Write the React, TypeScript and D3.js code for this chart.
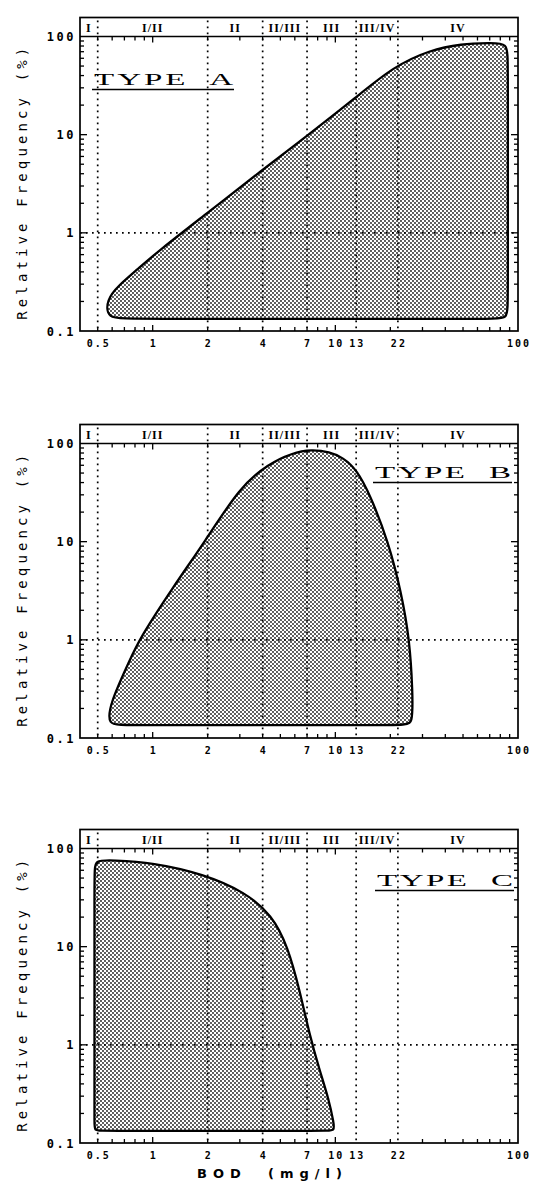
import React, { useEffect, useRef } from 'react';
import * as d3 from 'd3';

// zone boundaries on the BOD axis (mg/l) and the header labels between them
const zoneBounds = [0.4, 0.5, 2, 4, 7, 13, 22, 100];
const zoneLabels = ['I', 'I/II', 'II', 'II/III', 'III', 'III/IV', 'IV'];

const bodTicks = [0.5, 1, 2, 4, 7, 10, 13, 22, 100];
const bodTickLabels = ['0.5', '1', '2', '4', '7', '10', '13', '22', '100'];
const freqTicks = [0.1, 1, 10, 100];
const freqTickLabels = ['0.1', '1', '10', '100'];

const typeNames = ['TYPE  A', 'TYPE  B', 'TYPE  C'];

// outlines as [BOD, relative frequency %]
const typeA = [
    [0.56, 0.133], [0.56, 0.21], [0.65, 0.29], [0.82, 0.42], [1.06, 0.64],
    [2.0, 1.6], [4.0, 4.4], [7.0, 9.7], [13, 24], [20.7, 49], [33, 73],
    [49, 84], [70, 86], [88, 86], [88, 58], [88, 0.19], [88, 0.133],
    [72, 0.133], [0.75, 0.133]
];
const typeB = [
    [0.57, 0.135], [0.58, 0.22], [0.75, 0.62], [0.84, 1.0], [1.3, 3.5],
    [1.93, 10], [3.0, 36], [4.3, 62], [5.8, 80], [7.4, 87], [9.3, 82],
    [11, 72], [13.1, 54], [15.5, 30], [19.5, 10], [23, 3], [25.5, 1],
    [26.5, 0.3], [26.5, 0.135], [24, 0.135], [0.68, 0.135]
];
const typeC = [
    [0.48, 0.133], [0.48, 0.16], [0.48, 0.3], [0.48, 60], [0.48, 76],
    [0.6, 76], [1.0, 72], [1.9, 55], [3.2, 36], [4.5, 21], [5.5, 10],
    [6.4, 3.5], [7.2, 1.3], [8.2, 0.55], [9.2, 0.28], [9.8, 0.16], [9.9, 0.133],
    [9, 0.133], [0.52, 0.133]
];

const shapes = [typeA, typeB, typeC];

function App() {
    const ref = useRef(null);

    useEffect(() => {
        const width = 535, height = 1182;
        const left = 80, right = 518;
        const headTop = 17.5, plotTop = 36.5, plotBottom = 331;
        const offsets = [0, 407, 812];
        // where the TYPE label sits in each panel
        const nameBox = [
            { x1: 94, x2: 233, base: 48.5 },
            { x1: 375, x2: 511, base: 34.5 },
            { x1: 377, x2: 513, base: 37.5 }
        ];
        const stretch = 2.0;

        const svg = d3.select(ref.current);
        svg.selectAll('*').remove();
        svg.attr('width', width).attr('height', height);

        const pat = svg.append('defs').append('pattern')
            .attr('id', 'stipple')
            .attr('width', 4).attr('height', 4)
            .attr('patternUnits', 'userSpaceOnUse');
        pat.append('rect').attr('width', 4).attr('height', 4).attr('fill', '#fff');
        pat.append('circle').attr('cx', 1).attr('cy', 1).attr('r', 0.9).attr('fill', '#111');
        pat.append('circle').attr('cx', 3).attr('cy', 3).attr('r', 0.9).attr('fill', '#111');

        const x = d3.scaleLog().domain([0.4, 100]).range([left, right]);
        const y = d3.scaleLog().domain([0.1, 100]).range([plotBottom, plotTop]);

        const line = d3.line()
            .x(d => x(d[0]))
            .y(d => y(d[1]))
            .curve(d3.curveBasisClosed);

        const xMinor = x.ticks().filter(v => v > 0.4 && v < 100);
        const yMinor = y.ticks().filter(v => v > 0.1 && v < 100);
        const isDecade = v => Math.abs(Math.log10(v) - Math.round(Math.log10(v))) < 1e-6;

        shapes.forEach((shape, i) => {
            const g = svg.append('g').attr('transform', `translate(0,${offsets[i]})`);

            g.append('path')
                .attr('d', line(shape))
                .attr('fill', 'url(#stipple)');

            // dotted zone lines, running up through the header band
            g.selectAll('.zone')
                .data(zoneBounds.slice(1, -1))
                .enter().append('line')
                .attr('class', 'zone')
                .attr('x1', d => x(d)).attr('x2', d => x(d))
                .attr('y1', headTop + 3).attr('y2', plotBottom)
                .attr('stroke', '#000')
                .attr('stroke-width', 1.7)
                .attr('stroke-dasharray', '1.7 4.3');

            g.append('line')
                .attr('x1', left).attr('x2', right)
                .attr('y1', y(1)).attr('y2', y(1))
                .attr('stroke', '#000')
                .attr('stroke-width', 1.7)
                .attr('stroke-dasharray', '1.7 4.3');

            g.append('path')
                .attr('d', line(shape))
                .attr('fill', 'none')
                .attr('stroke', '#000')
                .attr('stroke-width', 2.3)
                .attr('stroke-linejoin', 'round');

            // frame and header band
            g.append('rect')
                .attr('x', left).attr('y', headTop)
                .attr('width', right - left).attr('height', plotBottom - headTop)
                .attr('fill', 'none')
                .attr('stroke', '#000')
                .attr('stroke-width', 1.7);
            g.append('line')
                .attr('x1', left).attr('x2', right)
                .attr('y1', plotTop).attr('y2', plotTop)
                .attr('stroke', '#000')
                .attr('stroke-width', 1.7);

            g.selectAll('.zlabel')
                .data(zoneLabels)
                .enter().append('text')
                .attr('class', 'zlabel')
                .attr('x', (d, k) => x(Math.sqrt(zoneBounds[k] * zoneBounds[k + 1])))
                .attr('y', plotTop - 5)
                .attr('text-anchor', 'middle')
                .attr('font-family', 'Liberation Serif')
                .attr('font-weight', 'bold')
                .attr('font-size', 12)
                .attr('letter-spacing', 1)
                .text(d => d);

            // inward ticks on all four sides
            const tick = '#000';
            g.selectAll('.xb').data(xMinor).enter().append('line')
                .attr('x1', d => x(d)).attr('x2', d => x(d))
                .attr('y1', plotBottom).attr('y2', d => plotBottom - (isDecade(d) ? 6 : 4))
                .attr('stroke', tick).attr('stroke-width', 1.3);
            g.selectAll('.xt').data(xMinor).enter().append('line')
                .attr('x1', d => x(d)).attr('x2', d => x(d))
                .attr('y1', plotTop).attr('y2', d => plotTop + (isDecade(d) ? 6 : 4))
                .attr('stroke', tick).attr('stroke-width', 1.3);
            g.selectAll('.yl').data(yMinor).enter().append('line')
                .attr('x1', left).attr('x2', d => left + (isDecade(d) ? 7 : 4))
                .attr('y1', d => y(d)).attr('y2', d => y(d))
                .attr('stroke', tick).attr('stroke-width', 1.3);
            g.selectAll('.yr').data(yMinor).enter().append('line')
                .attr('x1', right).attr('x2', d => right - (isDecade(d) ? 7 : 4))
                .attr('y1', d => y(d)).attr('y2', d => y(d))
                .attr('stroke', tick).attr('stroke-width', 1.3);

            g.selectAll('.xlab')
                .data(bodTicks)
                .enter().append('text')
                .attr('x', d => x(d) + 1)
                .attr('y', plotBottom + 16)
                .attr('text-anchor', 'middle')
                .attr('font-family', 'DejaVu Sans Mono')
                .attr('font-weight', 'bold')
                .attr('font-size', 10)
                .attr('letter-spacing', 2)
                .text((d, k) => bodTickLabels[k]);

            g.selectAll('.ylab')
                .data(freqTicks)
                .enter().append('text')
                .attr('x', 76)
                .attr('y', d => y(d) + 4.5)
                .attr('text-anchor', 'end')
                .attr('font-family', 'DejaVu Sans Mono')
                .attr('font-weight', 'bold')
                .attr('font-size', 12)
                .attr('letter-spacing', 2.5)
                .text((d, k) => freqTickLabels[k]);

            g.append('text')
                .attr('transform', `translate(27,${(plotTop + plotBottom) / 2}) rotate(-90)`)
                .attr('text-anchor', 'middle')
                .attr('font-family', 'DejaVu Sans Mono')
                .attr('font-size', 14)
                .attr('textLength', 272)
                .attr('lengthAdjust', 'spacing')
                .text('Relative Frequency (%)');

            // wide, stretched serif lettering for the type name
            const nb = nameBox[i];
            g.append('text')
                .attr('transform', `translate(${nb.x1},${plotTop + nb.base}) scale(${stretch},1)`)
                .attr('font-family', 'Liberation Serif')
                .attr('font-size', 16.5)
                .attr('textLength', (nb.x2 - nb.x1) / stretch)
                .attr('lengthAdjust', 'spacing')
                .style('white-space', 'pre')
                .text(typeNames[i]);
            g.append('line')
                .attr('x1', nb.x1 - 2).attr('x2', nb.x2 + 1)
                .attr('y1', plotTop + nb.base + 4.5).attr('y2', plotTop + nb.base + 4.5)
                .attr('stroke', '#000').attr('stroke-width', 1.5);

            if (i === 2) {
                g.append('text')
                    .attr('x', 197)
                    .attr('y', plotBottom + 35)
                    .attr('font-family', 'DejaVu Sans')
                    .attr('font-weight', 'bold')
                    .attr('font-size', 13)
                    .attr('textLength', 145)
                    .attr('lengthAdjust', 'spacing')
                    .style('white-space', 'pre')
                    .text('BOD  (mg/l)');
            }
        });
    }, []);

    return <svg ref={ref} style={{ position: 'absolute', left: 0, top: 0, background: '#fff' }}></svg>;
}

export default App;
